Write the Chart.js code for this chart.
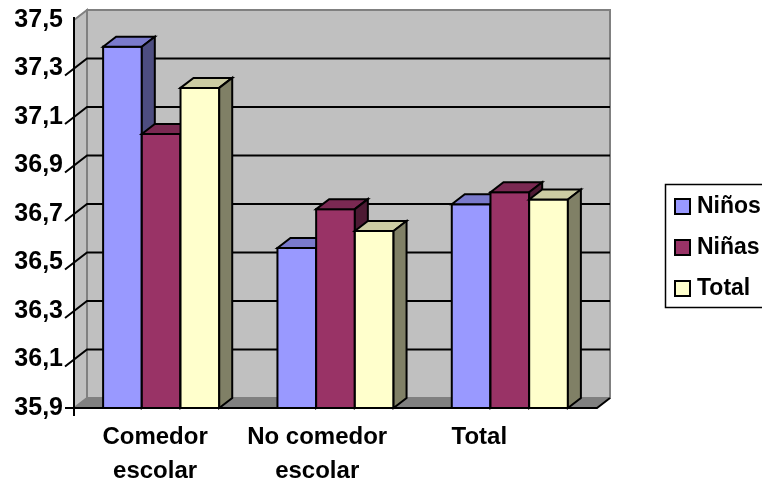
<!DOCTYPE html>
<html>
<head>
<meta charset="utf-8">
<script src="https://cdn.jsdelivr.net/npm/chart.js@4.4.1/dist/chart.umd.min.js"></script>
<style>
  html, body { margin: 0; padding: 0; background: #ffffff; }
  #wrap { width: 762px; height: 486px; }
</style>
</head>
<body>
<div id="wrap"><canvas id="chart" width="762" height="486"></canvas></div>
<script>
// Temperatura media por grupo
const categories = [['Comedor', 'escolar'], ['No comedor', 'escolar'], ['Total']];
const seriesNames = ['Niños', 'Niñas', 'Total'];
const ninos = [37.39, 36.56, 36.74];
const ninas = [37.03, 36.72, 36.79];
const total = [37.22, 36.63, 36.76];
const yTicks = [35.9, 36.1, 36.3, 36.5, 36.7, 36.9, 37.1, 37.3, 37.5];

const seriesColors = ['#9999FF', '#993366', '#FFFFCC'];
const FONT = '"Liberation Sans", Arial, sans-serif';
const DX = 13, DY = -10;          // depth offset of the 3D boxes
const LABEL_STEP = 0.93;          // category label spacing relative to category width

function shade(hex, f) {
  const n = parseInt(hex.slice(1), 16);
  const r = Math.round(((n >> 16) & 255) * f);
  const g = Math.round(((n >> 8) & 255) * f);
  const b = Math.round((n & 255) * f);
  return `rgb(${r},${g},${b})`;
}

function poly(ctx, pts, fill, stroke, lw) {
  ctx.beginPath();
  ctx.moveTo(pts[0][0], pts[0][1]);
  for (let i = 1; i < pts.length; i++) ctx.lineTo(pts[i][0], pts[i][1]);
  ctx.closePath();
  if (fill) { ctx.fillStyle = fill; ctx.fill(); }
  if (stroke) { ctx.strokeStyle = stroke; ctx.lineWidth = lw; ctx.stroke(); }
}

const box3d = {
  id: 'box3d',
  beforeDatasetsDraw(chart) {
    const { ctx, chartArea: a, scales: { y } } = chart;
    ctx.save();
    ctx.lineJoin = 'miter';

    // back wall
    poly(ctx, [[a.left + DX, a.top + DY], [a.right + DX, a.top + DY],
               [a.right + DX, a.bottom + DY], [a.left + DX, a.bottom + DY]],
         '#C0C0C0', '#808080', 2);
    // side wall
    poly(ctx, [[a.left, a.top], [a.left + DX, a.top + DY],
               [a.left + DX, a.bottom + DY], [a.left, a.bottom]],
         '#C0C0C0', '#808080', 2);
    // floor
    poly(ctx, [[a.left, a.bottom], [a.left + DX, a.bottom + DY],
               [a.right + DX, a.bottom + DY], [a.right, a.bottom]],
         '#808080', null, 0);

    // gridlines across side wall and back wall, with slanted tick marks
    ctx.strokeStyle = '#000';
    ctx.lineWidth = 2;
    yTicks.slice(1, -1).forEach(v => {
      const py = y.getPixelForValue(v);
      ctx.beginPath();
      ctx.moveTo(a.left - 9, py + 7);
      ctx.lineTo(a.left + DX, py + DY);
      ctx.lineTo(a.right + DX, py + DY);
      ctx.stroke();
    });

    // value axis
    ctx.beginPath();
    ctx.moveTo(a.left, a.top - 3);
    ctx.lineTo(a.left, a.bottom + 8);
    ctx.stroke();
    // floor front edge
    ctx.beginPath();
    ctx.moveTo(a.left - 9, a.bottom);
    ctx.lineTo(a.right, a.bottom);
    ctx.lineTo(a.right + DX, a.bottom + DY);
    ctx.stroke();

    // bars, painted left to right so each box covers its neighbour's side
    categories.forEach((_, i) => {
      chart.data.datasets.forEach((ds, d) => {
        const el = chart.getDatasetMeta(d).data[i];
        const { x, y: top, base, width } = el.getProps(['x', 'y', 'base', 'width'], true);
        const x0 = x - width / 2, x1 = x + width / 2;
        const c = seriesColors[d];
        el.draw(ctx);
        ctx.lineWidth = 2;
        ctx.strokeStyle = '#000';
        ctx.strokeRect(x0, top, width, base - top);
        poly(ctx, [[x0, top], [x0 + DX, top + DY], [x1 + DX, top + DY], [x1, top]],
             shade(c, 0.8), '#000', 2);
        poly(ctx, [[x1, top], [x1 + DX, top + DY], [x1 + DX, base + DY], [x1, base]],
             shade(c, 0.5), '#000', 2);
      });
    });
    ctx.restore();
    return false;
  },
  afterDraw(chart) {
    const { ctx, chartArea: a } = chart;
    ctx.save();
    // category labels
    ctx.fillStyle = '#000';
    ctx.font = `bold 24px ${FONT}`;
    ctx.textAlign = 'center';
    ctx.textBaseline = 'middle';
    const step = (a.width / categories.length) * LABEL_STEP;
    categories.forEach((lines, i) => {
      const cx = a.left + (i + 0.5) * step;
      lines.forEach((t, k) => ctx.fillText(t, cx, a.bottom + 29 + k * 34));
    });

    // legend
    const lx = a.right + 68, ly = 184;
    ctx.strokeStyle = '#000';
    ctx.lineWidth = 1.5;
    ctx.strokeRect(lx + 0.5, ly + 0.5, 130, 123);
    ctx.font = `bold 23px ${FONT}`;
    ctx.textAlign = 'left';
    seriesNames.forEach((name, d) => {
      const cy = ly + 22 + d * 41;
      ctx.fillStyle = seriesColors[d];
      ctx.fillRect(lx + 10, cy - 7, 15, 15);
      ctx.lineWidth = 2;
      ctx.strokeRect(lx + 10, cy - 7, 15, 15);
      ctx.fillStyle = '#000';
      ctx.fillText(name, lx + 32, cy + 1);
    });
    ctx.restore();
  }
};

const seriesValues = [ninos, ninas, total];

new Chart(document.getElementById('chart'), {
  type: 'bar',
  data: {
    labels: categories,
    datasets: seriesNames.map((name, d) => ({
      label: name,
      data: seriesValues[d],
      base: yTicks[0],
      backgroundColor: seriesColors[d],
      borderWidth: 0,
      categoryPercentage: 0.666,
      barPercentage: 1.0
    }))
  },
  options: {
    responsive: false,
    devicePixelRatio: 1,
    animation: false,
    layout: { padding: { top: 20, right: 165, bottom: 78, left: 0 } },
    plugins: { legend: { display: false }, tooltip: { enabled: false } },
    scales: {
      x: { display: false },
      y: {
        min: yTicks[0],
        max: yTicks[yTicks.length - 1],
        beginAtZero: false,
        grid: { display: false, drawTicks: false },
        border: { display: false },
        afterBuildTicks: s => { s.ticks = yTicks.map(v => ({ value: v })); },
        afterFit: s => { s.width = 74; s.paddingTop = 0; s.paddingBottom = 0; },
        ticks: {
          padding: 11,
          color: '#000',
          font: { family: FONT, size: 25, weight: 'bold' },
          callback: v => Number(v).toFixed(1).replace('.', ',')
        }
      }
    }
  },
  plugins: [box3d]
});
</script>
</body>
</html>
